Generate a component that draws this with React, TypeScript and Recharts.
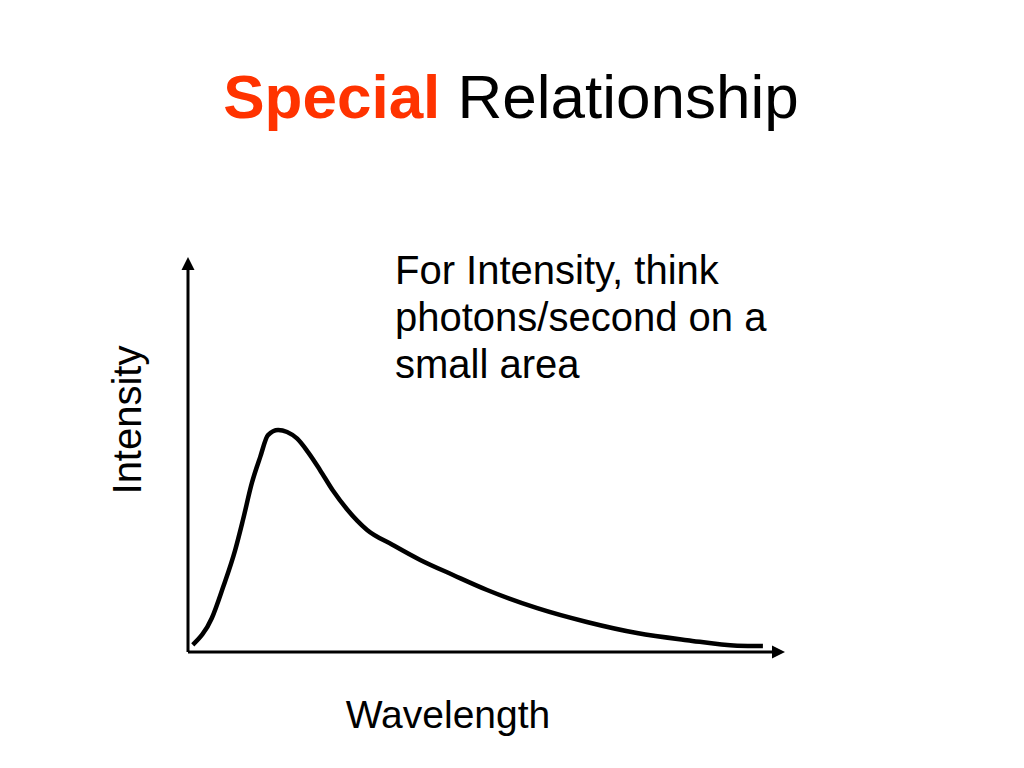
import { LineChart, Line, XAxis, YAxis, ReferenceLine } from "recharts";

// wavelength (0-100 along the axis) and intensity (0-100 up the axis)
const wavelength = [
  0.8, 4.0, 5.9, 7.9, 9.2, 10.7, 12.1, 13.4, 15.1, 16.6, 18.3, 20.1, 22.1, 24.3,
  26.6, 30.0, 34.3, 38.9, 44.4, 50.1, 58.5, 66.8, 75.2, 83.6, 92.0, 96.3,
];
const intensity = [
  1.8, 8.6, 16.5, 25.8, 33.4, 42.8, 49.4, 54.9, 56.2, 55.7, 54.0, 50.6, 46.1, 40.8,
  36.2, 30.9, 27.1, 23.3, 19.5, 15.7, 11.1, 7.6, 4.8, 3.0, 1.6, 1.5,
];
const noteLines = ["For Intensity, think", "photons/second on a", "small area"];

const data = wavelength.map((x, i) => ({ x, y: intensity[i] }));

const FONT = '"Liberation Sans", Arial, Helvetica, sans-serif';

// axis drawn as a line with an arrow head at its far end
const ArrowAxis = (props: any) => {
  const { x1, y1, x2, y2 } = props;
  const ang = Math.atan2(y2 - y1, x2 - x1);
  const len = 13;
  const half = 6.5;
  const bx = x2 - len * Math.cos(ang);
  const by = y2 - len * Math.sin(ang);
  const px = -Math.sin(ang) * half;
  const py = Math.cos(ang) * half;
  return (
    <g>
      <line x1={x1} y1={y1} x2={bx} y2={by} stroke="#000" strokeWidth={3} />
      <polygon points={`${x2},${y2} ${bx + px},${by + py} ${bx - px},${by - py}`} fill="#000" />
    </g>
  );
};

export default function App() {
  return (
    <div
      style={{
        position: "absolute",
        left: 0,
        top: 0,
        width: 1024,
        height: 768,
        background: "#fff",
        fontFamily: FONT,
      }}
    >
      <svg width={1024} height={768} style={{ position: "absolute", left: 0, top: 0 }}>
        <text x={511} y={118} textAnchor="middle" fontSize={62} fontFamily={FONT}>
          <tspan fill="#FF3300" fontWeight="bold">Special</tspan>
          <tspan fill="#000"> Relationship</tspan>
        </text>
        {noteLines.map((line, i) => (
          <text key={line} x={395} y={284 + i * 47} fontSize={40} fontFamily={FONT} fill="#000">
            {line}
          </text>
        ))}
        <text x={448} y={728} textAnchor="middle" fontSize={39} fontFamily={FONT} fill="#000">
          Wavelength
        </text>
        <text
          x={141}
          y={420}
          textAnchor="middle"
          fontSize={40}
          fontFamily={FONT}
          fill="#000"
          transform="rotate(-90 141 420)"
        >
          Intensity
        </text>
      </svg>
      <div style={{ position: "absolute", left: 0, top: 0 }}>
        <LineChart
          width={1024}
          height={768}
          data={data}
          margin={{ top: 257, right: 239, bottom: 116, left: 188 }}
        >
          <XAxis type="number" dataKey="x" domain={[0, 100]} hide />
          <YAxis type="number" domain={[0, 100]} hide />
          <ReferenceLine
            segment={[{ x: 0, y: 0 }, { x: 100, y: 0 }]}
            ifOverflow="visible"
            shape={ArrowAxis}
          />
          <ReferenceLine
            segment={[{ x: 0, y: 0 }, { x: 0, y: 100 }]}
            ifOverflow="visible"
            shape={ArrowAxis}
          />
          <Line
            type="monotone"
            dataKey="y"
            stroke="#000"
            strokeWidth={4.5}
            dot={false}
            isAnimationActive={false}
          />
        </LineChart>
      </div>
    </div>
  );
}
